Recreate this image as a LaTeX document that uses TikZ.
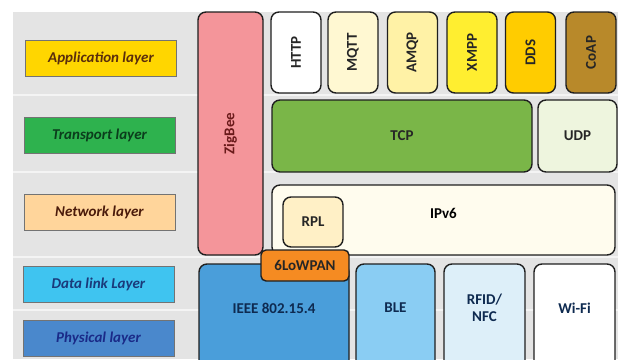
\documentclass[tikz,border=0pt]{standalone}
\usepackage{fontspec}
\setmainfont{Carlito}
\usepackage{tikz}

\definecolor{bggray}{HTML}{E4E4E4}
\definecolor{sepgray}{HTML}{F4F4F4}
\definecolor{appyellow}{HTML}{FFD600}
\definecolor{trgreen}{HTML}{2EB24E}
\definecolor{netpeach}{HTML}{FFD59B}
\definecolor{dlcyan}{HTML}{3FC4F0}
\definecolor{phyblue}{HTML}{4A88CC}
\definecolor{zbpink}{HTML}{F4959A}
\definecolor{mqttfill}{HTML}{FFF8D2}
\definecolor{amqpfill}{HTML}{FFF2A6}
\definecolor{xmppfill}{HTML}{FFEE30}
\definecolor{ddsfill}{HTML}{FFCC00}
\definecolor{coapfill}{HTML}{B8892A}
\definecolor{tcpfill}{HTML}{7AB648}
\definecolor{udpfill}{HTML}{EEF5DE}
\definecolor{ipfill}{HTML}{FFFCEE}
\definecolor{rplfill}{HTML}{FFF0C6}
\definecolor{lowfill}{HTML}{F58B22}
\definecolor{ieeefill}{HTML}{4A9EDA}
\definecolor{blefill}{HTML}{8ACDF3}
\definecolor{rfidfill}{HTML}{DDEFF9}
\definecolor{navytext}{HTML}{0E2A50}

\begin{document}
\begin{tikzpicture}[x=1pt, y=-1pt, font=\fontsize{15}{16.5}\selectfont\bfseries]
        \tikzstyle{layer} = [rectangle, draw=black!55, line width=0.8pt, minimum width=151pt, minimum height=36pt, font=\fontsize{15}{16.5}\selectfont\bfseries\itshape]
        \tikzstyle{proto} = [rectangle, draw=black!88, line width=1.4pt, rounded corners=8pt, text=black!85, align=center]
        \tikzstyle{vproto} = [proto, rotate=90, minimum width=81pt, minimum height=50pt]
        \tikzstyle{lowbox} = [proto, minimum height=116pt, text=navytext]

        \useasboundingbox (0,0) rectangle (618,359);
        \clip (0,0) rectangle (618,359);
        \fill[bggray] (13,12) rectangle (618,359);
        \foreach \y in {95,172,257,310}
            \draw[sepgray, line width=1.5pt] (13,\y) -- (618,\y);

        % layer names
        \node (app) [layer, fill=appyellow, text={rgb,255:red,90;green,45;blue,12}] at (101,58) {Application layer};
        \node (transport) [layer, fill=trgreen, text={rgb,255:red,11;green,61;blue,28}] at (99.5,135) {Transport layer};
        \node (network) [layer, fill=netpeach, text={rgb,255:red,74;green,26;blue,10}] at (99.5,212.5) {Network layer};
        \node (datalink) [layer, fill=dlcyan, text={rgb,255:red,26;green,58;blue,122}] at (98.5,284) {Data link Layer};
        \node (physical) [layer, fill=phyblue, text={rgb,255:red,26;green,42;blue,136}] at (98.5,338) {Physical layer};

        % protocols
        \node (zigbee) [proto, rotate=90, minimum width=243pt, minimum height=65pt, fill=zbpink, text={rgb,255:red,106;green,26;blue,26}] at (230.5,133.5) {ZigBee};
        \node (http) [vproto, fill=white] at (296,52.5) {HTTP};
        \node (mqtt) [vproto, fill=mqttfill] at (353,52.5) {MQTT};
        \node (amqp) [vproto, fill=amqpfill] at (412.5,52.5) {AMQP};
        \node (xmpp) [vproto, fill=xmppfill] at (472,52.5) {XMPP};
        \node (dds) [vproto, fill=ddsfill] at (530.5,52.5) {DDS};
        \node (coap) [vproto, fill=coapfill] at (591,52.5) {CoAP};

        \node (tcp) [proto, fill=tcpfill, minimum width=260pt, minimum height=72pt] at (402,136) {TCP};
        \node (udp) [proto, fill=udpfill, minimum width=79pt, minimum height=72pt] at (577.5,136) {UDP};

        \node (ipv6) [proto, fill=ipfill, minimum width=343pt, minimum height=70pt, label={[yshift=7pt]center:IPv6}] at (443.5,220) {};
        \node (rpl) [proto, fill=rplfill, minimum width=60pt, minimum height=50pt] at (313,222) {RPL};

        \node (ieee) [lowbox, fill=ieeefill, minimum width=150pt, label={[yshift=14pt, text=navytext]center:IEEE 802.15.4}] at (274,322) {};
        \node (ble) [lowbox, fill=blefill, minimum width=79pt, label={[yshift=14pt, text=navytext]center:BLE}] at (395.5,322) {};
        \node (rfid) [lowbox, fill=rfidfill, minimum width=81pt, label={[yshift=14pt, text=navytext, align=center]center:RFID/\\NFC}] at (484.5,322) {};
        \node (wifi) [lowbox, fill=white, minimum width=81pt, label={[yshift=14pt, text=navytext]center:Wi-Fi}] at (574.5,322) {};

        \node (lowpan) [proto, fill=lowfill, minimum width=88pt, minimum height=31pt, rounded corners=5pt] at (305,265.5) {6LoWPAN};
    \end{tikzpicture}
\end{document}
